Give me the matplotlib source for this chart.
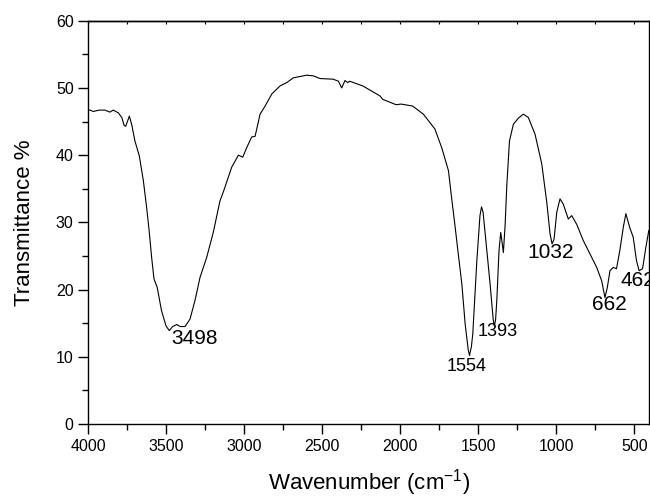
import numpy as np
import matplotlib.pyplot as plt
from matplotlib.ticker import MultipleLocator

plt.rcParams['font.family'] = ['Liberation Sans', 'DejaVu Sans']

# FTIR spectrum
wavenumber = [4000, 3968, 3930, 3893, 3861, 3840, 3808, 3785, 3770, 3760,
              3737, 3722, 3701, 3673, 3647, 3626, 3611, 3594, 3579, 3558,
              3531, 3502, 3481, 3459, 3433, 3412, 3380, 3348, 3316, 3284,
              3241, 3199, 3156, 3135, 3081, 3038, 3010, 2985, 2953, 2931,
              2899, 2867, 2824, 2771, 2728, 2686, 2600, 2558, 2515, 2430,
              2397, 2376, 2355, 2337, 2325, 2241, 2130, 2113, 2027, 1995,
              1921, 1853, 1779, 1735, 1692, 1671, 1650, 1630, 1606, 1585,
              1565, 1557, 1545, 1536, 1510, 1490, 1480, 1470, 1446, 1425,
              1405, 1398, 1390, 1382, 1368, 1357, 1348, 1340, 1329, 1318,
              1301, 1276, 1244, 1212, 1180, 1137, 1094, 1062, 1041, 1028,
              1015, 998, 977, 956, 924, 902, 870, 828, 785, 742,
              710, 689, 674, 657, 636, 615, 594, 572, 555, 530,
              508, 487, 470, 448, 427, 408]
transmittance = [46.8, 46.5, 46.7, 46.7, 46.4, 46.7, 46.3, 45.6, 44.4, 44.3,
                 45.8, 44.6, 42.1, 39.9, 36.2, 32.2, 29.0, 24.8, 21.6, 20.3,
                 16.9, 14.6, 13.9, 14.5, 14.8, 14.5, 14.5, 15.6, 18.4, 21.8,
                 24.8, 28.5, 33.2, 34.5, 38.2, 40.0, 39.7, 41.1, 42.7, 42.8,
                 46.1, 47.3, 49.1, 50.3, 50.8, 51.5, 51.9, 51.8, 51.4, 51.3,
                 51.0, 50.0, 51.1, 50.8, 51.0, 50.3, 48.8, 48.3, 47.5, 47.6,
                 47.3, 46.1, 43.9, 41.1, 37.7, 33.5, 29.5, 25.5, 20.8, 14.9,
                 11.0, 10.2, 11.5, 13.4, 24.3, 31.0, 32.3, 31.5, 25.8, 20.8,
                 15.5, 14.6, 15.5, 18.4, 25.8, 28.5, 27.0, 25.5, 29.5, 35.5,
                 42.1, 44.6, 45.5, 46.1, 45.6, 43.1, 38.7, 33.0, 28.3, 26.8,
                 27.5, 31.5, 33.5, 32.7, 30.5, 31.0, 29.7, 27.3, 25.3, 23.3,
                 21.3, 18.8, 20.3, 22.8, 23.3, 23.1, 25.8, 29.2, 31.3, 29.2,
                 27.8, 24.3, 22.8, 23.1, 26.3, 28.8]

# peak labels: text, position (wavenumber, T), font size
peak_text = ['3498', '1554', '1393', '1032', '662', '462']
peak_pos = [(3320, 12.7), (1574, 8.5), (1376, 13.7), (1037, 25.5), (663, 17.8), (590, 21.4)]
peak_size = [15, 13, 13, 15, 15, 15]
peak_ha = ['center', 'center', 'center', 'center', 'center', 'left']

fig = plt.figure(figsize=(6.5, 4.97), dpi=100)
ax = fig.add_axes([0.1358, 0.1469, 0.8631, 0.8114])

ax.plot(wavenumber, transmittance, color='black', lw=0.8)

for t, (px, py), s, ha in zip(peak_text, peak_pos, peak_size, peak_ha):
    ax.text(px, py, t, fontsize=s, ha=ha, va='center', clip_on=False)

ax.set_xlim(4000, 405)
ax.set_ylim(0, 60)
ax.xaxis.set_major_locator(MultipleLocator(500))
ax.xaxis.set_minor_locator(MultipleLocator(250))
ax.yaxis.set_major_locator(MultipleLocator(10))
ax.yaxis.set_minor_locator(MultipleLocator(5))
ax.tick_params(which='major', direction='out', length=7, width=1.0, labelsize=11.5)
ax.tick_params(which='minor', direction='out', length=4, width=1.0)

# tiny inward marks along the top edge
top = ax.secondary_xaxis('top')
top.xaxis.set_major_locator(MultipleLocator(250))
top.tick_params(direction='in', length=2, width=0.8, labeltop=False)
top.spines['top'].set_linewidth(1.0)

for sp in ax.spines.values():
    sp.set_linewidth(1.0)

ax.set_xlabel('Wavenumber (cm$^{\\mathregular{-1}}$)', fontsize=16, labelpad=10)
ax.set_ylabel('Transmittance %', fontsize=16, labelpad=15)

fig.savefig('out.png', dpi=100)
